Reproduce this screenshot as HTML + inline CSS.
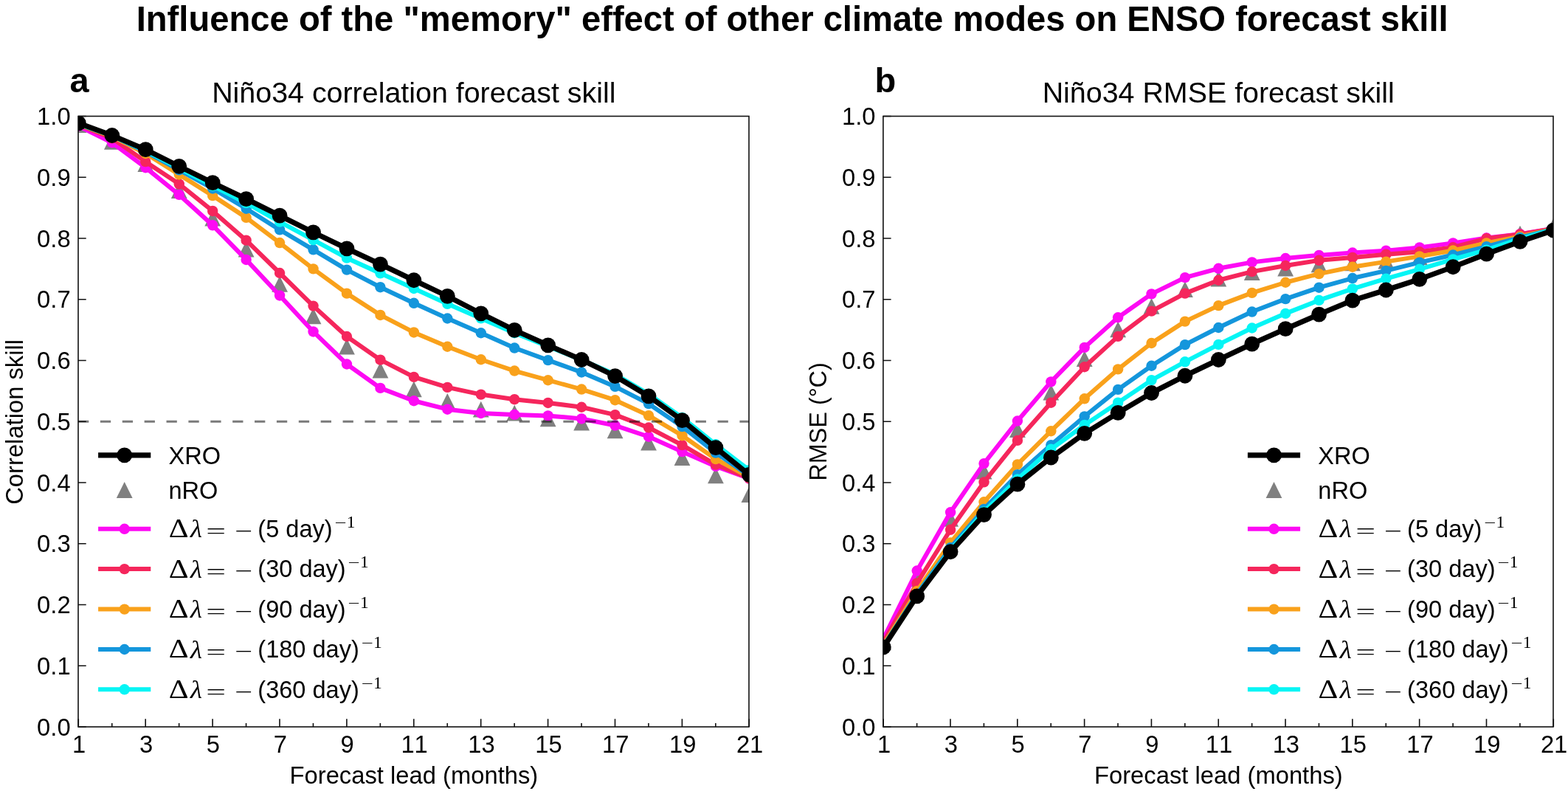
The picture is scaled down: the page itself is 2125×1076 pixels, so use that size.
<!DOCTYPE html>
<html lang="en"><head><meta charset="utf-8">
<title>Influence of the "memory" effect of other climate modes on ENSO forecast skill</title>
<style>
html,body{margin:0;padding:0;background:#fff;}
body{width:2125px;height:1076px;overflow:hidden;}
svg{display:block;}
text{font-family:"Liberation Sans", Arial, Helvetica, sans-serif;fill:#000;font-kerning:none;}
.tk{font-size:32.75px;}
.lg{font-size:32.55px;}
.m{font-family:"Liberation Serif", "DejaVu Serif", serif;}
</style></head><body>
<svg width="2125" height="1076" viewBox="0 0 2125 1076" role="img" aria-label="Two-panel line chart of ENSO forecast skill">
<rect x="0" y="0" width="2125" height="1076" fill="#ffffff"/>
<text x="1073.7" y="42" text-anchor="middle" font-size="47.2" font-weight="bold">Influence of the &quot;memory&quot; effect of other climate modes on ENSO forecast skill</text>
<g id="axes-a">
<clipPath id="clip-a"><rect x="106" y="157.5" width="909" height="827.5"/></clipPath>
<g clip-path="url(#clip-a)">
<path fill="#808080" d="M106.4,158.19L95.5,179.99L117.3,179.99ZM151.85,180.94L140.95,202.74L162.75,202.74ZM197.3,211.31L186.4,233.11L208.2,233.11ZM242.75,247.22L231.85,269.02L253.65,269.02ZM288.2,284.71L277.3,306.51L299.1,306.51ZM333.65,326.58L322.75,348.38L344.55,348.38ZM379.1,373.91L368.2,395.71L390,395.71ZM424.55,417.36L413.65,439.16L435.45,439.16ZM470,458.73L459.1,480.53L480.9,480.53ZM515.45,490.67L504.55,512.47L526.35,512.47ZM560.9,516.49L550,538.29L571.8,538.29ZM606.35,533.04L595.45,554.84L617.25,554.84ZM651.8,543.72L640.9,565.52L662.7,565.52ZM697.25,548.76L686.35,570.56L708.15,570.56ZM742.7,556.38L731.8,578.18L753.6,578.18ZM788.15,561.76L777.25,583.56L799.05,583.56ZM833.6,572.43L822.7,594.23L844.5,594.23ZM879.05,588.65L868.15,610.45L889.95,610.45ZM924.5,609.26L913.6,631.06L935.4,631.06ZM969.95,633.5L959.05,655.3L980.85,655.3ZM1015.4,659.32L1004.5,681.12L1026.3,681.12Z"/>
<polyline fill="none" stroke="#fd0af4" stroke-width="6" stroke-linejoin="round" stroke-linecap="butt" points="106.4,170.74 151.85,193.25 197.3,227.18 242.75,263.92 288.2,305.29 333.65,351.96 379.1,400.45 424.55,449.44 470,493.47 515.45,525.9 560.9,543.28 606.35,554.7 651.8,560 697.25,561.9 742.7,563.39 788.15,567.44 833.6,576.55 879.05,591.77 924.5,612.13 969.95,631.91 1015.4,648.54"/>
<g fill="#fd0af4"><circle cx="106.4" cy="170.74" r="7.2"/><circle cx="151.85" cy="193.25" r="7.2"/><circle cx="197.3" cy="227.18" r="7.2"/><circle cx="242.75" cy="263.92" r="7.2"/><circle cx="288.2" cy="305.29" r="7.2"/><circle cx="333.65" cy="351.96" r="7.2"/><circle cx="379.1" cy="400.45" r="7.2"/><circle cx="424.55" cy="449.44" r="7.2"/><circle cx="470" cy="493.47" r="7.2"/><circle cx="515.45" cy="525.9" r="7.2"/><circle cx="560.9" cy="543.28" r="7.2"/><circle cx="606.35" cy="554.7" r="7.2"/><circle cx="651.8" cy="560" r="7.2"/><circle cx="697.25" cy="561.9" r="7.2"/><circle cx="742.7" cy="563.39" r="7.2"/><circle cx="788.15" cy="567.44" r="7.2"/><circle cx="833.6" cy="576.55" r="7.2"/><circle cx="879.05" cy="591.77" r="7.2"/><circle cx="924.5" cy="612.13" r="7.2"/><circle cx="969.95" cy="631.91" r="7.2"/><circle cx="1015.4" cy="648.54" r="7.2"/></g>
<polyline fill="none" stroke="#f5265c" stroke-width="6" stroke-linejoin="round" stroke-linecap="butt" points="106.4,169.09 151.85,187.29 197.3,219.15 242.75,249.35 288.2,285.93 333.65,325.65 379.1,370 424.55,414.6 470,455.98 515.45,487.67 560.9,510.84 606.35,524.91 651.8,534.59 697.25,541.21 742.7,545.93 788.15,551.72 833.6,562.15 879.05,579.53 924.5,603.11 969.95,629.59 1015.4,648.04"/>
<g fill="#f5265c"><circle cx="106.4" cy="169.09" r="7.2"/><circle cx="151.85" cy="187.29" r="7.2"/><circle cx="197.3" cy="219.15" r="7.2"/><circle cx="242.75" cy="249.35" r="7.2"/><circle cx="288.2" cy="285.93" r="7.2"/><circle cx="333.65" cy="325.65" r="7.2"/><circle cx="379.1" cy="370" r="7.2"/><circle cx="424.55" cy="414.6" r="7.2"/><circle cx="470" cy="455.98" r="7.2"/><circle cx="515.45" cy="487.67" r="7.2"/><circle cx="560.9" cy="510.84" r="7.2"/><circle cx="606.35" cy="524.91" r="7.2"/><circle cx="651.8" cy="534.59" r="7.2"/><circle cx="697.25" cy="541.21" r="7.2"/><circle cx="742.7" cy="545.93" r="7.2"/><circle cx="788.15" cy="551.72" r="7.2"/><circle cx="833.6" cy="562.15" r="7.2"/><circle cx="879.05" cy="579.53" r="7.2"/><circle cx="924.5" cy="603.11" r="7.2"/><circle cx="969.95" cy="629.59" r="7.2"/><circle cx="1015.4" cy="648.04" r="7.2"/></g>
<polyline fill="none" stroke="#f9a11b" stroke-width="6" stroke-linejoin="round" stroke-linecap="butt" points="106.4,168.42 151.85,184.81 197.3,207.98 242.75,236.53 288.2,265.16 333.65,294.87 379.1,329.04 424.55,364.38 470,397.64 515.45,426.93 560.9,450.43 606.35,469.72 651.8,487.26 697.25,502.57 742.7,515.23 788.15,527.56 833.6,542.2 879.05,563.14 924.5,590.28 969.95,622.14 1015.4,646.55"/>
<g fill="#f9a11b"><circle cx="106.4" cy="168.42" r="7.2"/><circle cx="151.85" cy="184.81" r="7.2"/><circle cx="197.3" cy="207.98" r="7.2"/><circle cx="242.75" cy="236.53" r="7.2"/><circle cx="288.2" cy="265.16" r="7.2"/><circle cx="333.65" cy="294.87" r="7.2"/><circle cx="379.1" cy="329.04" r="7.2"/><circle cx="424.55" cy="364.38" r="7.2"/><circle cx="470" cy="397.64" r="7.2"/><circle cx="515.45" cy="426.93" r="7.2"/><circle cx="560.9" cy="450.43" r="7.2"/><circle cx="606.35" cy="469.72" r="7.2"/><circle cx="651.8" cy="487.26" r="7.2"/><circle cx="697.25" cy="502.57" r="7.2"/><circle cx="742.7" cy="515.23" r="7.2"/><circle cx="788.15" cy="527.56" r="7.2"/><circle cx="833.6" cy="542.2" r="7.2"/><circle cx="879.05" cy="563.14" r="7.2"/><circle cx="924.5" cy="590.28" r="7.2"/><circle cx="969.95" cy="622.14" r="7.2"/><circle cx="1015.4" cy="646.55" r="7.2"/></g>
<polyline fill="none" stroke="#1496dc" stroke-width="6" stroke-linejoin="round" stroke-linecap="butt" points="106.4,168.09 151.85,183.98 197.3,205.5 242.75,230.32 288.2,255.48 333.65,282.7 379.1,311.42 424.55,338.31 470,365.62 515.45,389.2 560.9,410.8 606.35,431.49 651.8,451.26 697.25,471.54 742.7,488.09 788.15,504.47 833.6,523.92 879.05,547.17 924.5,578.12 969.95,613.62 1015.4,644.9"/>
<g fill="#1496dc"><circle cx="106.4" cy="168.09" r="7.2"/><circle cx="151.85" cy="183.98" r="7.2"/><circle cx="197.3" cy="205.5" r="7.2"/><circle cx="242.75" cy="230.32" r="7.2"/><circle cx="288.2" cy="255.48" r="7.2"/><circle cx="333.65" cy="282.7" r="7.2"/><circle cx="379.1" cy="311.42" r="7.2"/><circle cx="424.55" cy="338.31" r="7.2"/><circle cx="470" cy="365.62" r="7.2"/><circle cx="515.45" cy="389.2" r="7.2"/><circle cx="560.9" cy="410.8" r="7.2"/><circle cx="606.35" cy="431.49" r="7.2"/><circle cx="651.8" cy="451.26" r="7.2"/><circle cx="697.25" cy="471.54" r="7.2"/><circle cx="742.7" cy="488.09" r="7.2"/><circle cx="788.15" cy="504.47" r="7.2"/><circle cx="833.6" cy="523.92" r="7.2"/><circle cx="879.05" cy="547.17" r="7.2"/><circle cx="924.5" cy="578.12" r="7.2"/><circle cx="969.95" cy="613.62" r="7.2"/><circle cx="1015.4" cy="644.9" r="7.2"/></g>
<polyline fill="none" stroke="#06f5f5" stroke-width="6" stroke-linejoin="round" stroke-linecap="butt" points="106.4,167.93 151.85,183.65 197.3,204.25 242.75,227.84 288.2,251.84 333.65,275.17 379.1,300.66 424.55,325.07 470,349.65 515.45,370.33 560.9,391.02 606.35,411.79 651.8,431.4 697.25,451.26 742.7,469.47 788.15,487.67 833.6,507.37 879.05,534.01 924.5,565.95 969.95,602.28 1015.4,637.2"/>
<g fill="#06f5f5"><circle cx="106.4" cy="167.93" r="7.2"/><circle cx="151.85" cy="183.65" r="7.2"/><circle cx="197.3" cy="204.25" r="7.2"/><circle cx="242.75" cy="227.84" r="7.2"/><circle cx="288.2" cy="251.84" r="7.2"/><circle cx="333.65" cy="275.17" r="7.2"/><circle cx="379.1" cy="300.66" r="7.2"/><circle cx="424.55" cy="325.07" r="7.2"/><circle cx="470" cy="349.65" r="7.2"/><circle cx="515.45" cy="370.33" r="7.2"/><circle cx="560.9" cy="391.02" r="7.2"/><circle cx="606.35" cy="411.79" r="7.2"/><circle cx="651.8" cy="431.4" r="7.2"/><circle cx="697.25" cy="451.26" r="7.2"/><circle cx="742.7" cy="469.47" r="7.2"/><circle cx="788.15" cy="487.67" r="7.2"/><circle cx="833.6" cy="507.37" r="7.2"/><circle cx="879.05" cy="534.01" r="7.2"/><circle cx="924.5" cy="565.95" r="7.2"/><circle cx="969.95" cy="602.28" r="7.2"/><circle cx="1015.4" cy="637.2" r="7.2"/></g>
<polyline fill="none" stroke="#000000" stroke-width="7.1" stroke-linejoin="round" stroke-linecap="butt" points="106.4,166.93 151.85,183.48 197.3,202.68 242.75,225.36 288.2,247.7 333.65,269.54 379.1,292.22 424.55,314.81 470,336.82 515.45,358.09 560.9,379.77 606.35,401.36 651.8,424.87 697.25,447.37 742.7,467.81 788.15,487.51 833.6,509.6 879.05,536.83 924.5,569.6 969.95,606.67 1015.4,643.41"/>
<g fill="#000000"><circle cx="106.4" cy="166.93" r="10.4"/><circle cx="151.85" cy="183.48" r="10.4"/><circle cx="197.3" cy="202.68" r="10.4"/><circle cx="242.75" cy="225.36" r="10.4"/><circle cx="288.2" cy="247.7" r="10.4"/><circle cx="333.65" cy="269.54" r="10.4"/><circle cx="379.1" cy="292.22" r="10.4"/><circle cx="424.55" cy="314.81" r="10.4"/><circle cx="470" cy="336.82" r="10.4"/><circle cx="515.45" cy="358.09" r="10.4"/><circle cx="560.9" cy="379.77" r="10.4"/><circle cx="606.35" cy="401.36" r="10.4"/><circle cx="651.8" cy="424.87" r="10.4"/><circle cx="697.25" cy="447.37" r="10.4"/><circle cx="742.7" cy="467.81" r="10.4"/><circle cx="788.15" cy="487.51" r="10.4"/><circle cx="833.6" cy="509.6" r="10.4"/><circle cx="879.05" cy="536.83" r="10.4"/><circle cx="924.5" cy="569.6" r="10.4"/><circle cx="969.95" cy="606.67" r="10.4"/><circle cx="1015.4" cy="643.41" r="10.4"/></g>
<line x1="106" y1="571.25" x2="1015" y2="571.25" stroke="#000" stroke-opacity="0.52" stroke-width="3.1" stroke-dasharray="14.3 15.58"/>
</g>
<path d="M106.3,985v-10.7M151.75,985v-5M197.2,985v-10.7M242.65,985v-5M288.1,985v-10.7M333.55,985v-5M379,985v-10.7M424.45,985v-5M469.9,985v-10.7M515.35,985v-5M560.8,985v-10.7M606.25,985v-5M651.7,985v-10.7M697.15,985v-5M742.6,985v-10.7M788.05,985v-5M833.5,985v-10.7M878.95,985v-5M924.4,985v-10.7M969.85,985v-5M1015.3,985v-10.7M106,985h10.7M106,902.25h10.7M106,819.5h10.7M106,736.75h10.7M106,654h10.7M106,571.25h10.7M106,488.5h10.7M106,405.75h10.7M106,323h10.7M106,240.25h10.7M106,157.5h10.7" stroke="#111" stroke-width="1.6" fill="none"/>
<rect x="106" y="157.5" width="909" height="827.5" fill="none" stroke="#111" stroke-width="1.6"/>
<g class="tk" text-anchor="middle">
<text x="107.1" y="1019.6">1</text>
<text x="198" y="1019.6">3</text>
<text x="288.9" y="1019.6">5</text>
<text x="379.8" y="1019.6">7</text>
<text x="470.7" y="1019.6">9</text>
<text x="561.6" y="1019.6">11</text>
<text x="652.5" y="1019.6">13</text>
<text x="743.4" y="1019.6">15</text>
<text x="834.3" y="1019.6">17</text>
<text x="925.2" y="1019.6">19</text>
<text x="1016.1" y="1019.6">21</text>
</g>
<g class="tk" text-anchor="end">
<text x="95.6" y="996.7">0.0</text>
<text x="95.6" y="913.95">0.1</text>
<text x="95.6" y="831.2">0.2</text>
<text x="95.6" y="748.45">0.3</text>
<text x="95.6" y="665.7">0.4</text>
<text x="95.6" y="582.95">0.5</text>
<text x="95.6" y="500.2">0.6</text>
<text x="95.6" y="417.45">0.7</text>
<text x="95.6" y="334.7">0.8</text>
<text x="95.6" y="251.95">0.9</text>
<text x="95.6" y="169.2">1.0</text>
</g>
<text class="tk" x="560.9" y="1062" text-anchor="middle">Forecast lead (months)</text>
<text class="tk" transform="translate(30.8,571.85) rotate(-90)" text-anchor="middle">Correlation skill</text>
<text x="560.8" y="139.3" font-size="39.4" text-anchor="middle">Niño34 correlation forecast skill</text>
<text x="94.5" y="124.6" font-size="47" font-weight="bold">a</text>
<line x1="133.1" y1="616.9" x2="204.3" y2="616.9" stroke="#000000" stroke-width="7.1"/>
<circle cx="168.7" cy="616.9" r="10.4" fill="#000000"/>
<text class="lg" x="228.5" y="629.3">XRO</text>
<path d="M168.7,653.1L157.8,674.9L179.6,674.9Z" fill="#808080"/>
<text class="lg" x="228.5" y="675.9">nRO</text>
<line x1="133.1" y1="716.8" x2="204.3" y2="716.8" stroke="#fd0af4" stroke-width="6"/>
<circle cx="168.7" cy="716.8" r="7.2" fill="#fd0af4"/>
<text class="m" transform="translate(228.65,728.1) scale(1.176,1)" font-size="35.5">Δ</text>
<text class="m" transform="translate(258,728.3) scale(1.100,1)" font-size="33.5" font-style="italic">λ</text>
<text class="m" transform="translate(279.35,729.25) scale(1.700,1)" font-size="28" fill="#3a3a3a">=</text>
<text class="m" transform="translate(318.55,728.6) scale(1.520,1)" font-size="28" fill="#3a3a3a">−</text>
<text class="lg" x="349.3" y="727.7">(5 day)</text>
<text class="m" transform="translate(453.5,714.8) scale(1.500,1)" font-size="19" fill="#3a3a3a">−</text>
<text class="m" transform="translate(469.8,714.9) scale(1.000,1)" font-size="23.5">1</text>
<line x1="133.1" y1="771.1" x2="204.3" y2="771.1" stroke="#f5265c" stroke-width="6"/>
<circle cx="168.7" cy="771.1" r="7.2" fill="#f5265c"/>
<text class="m" transform="translate(228.65,782.5) scale(1.176,1)" font-size="35.5">Δ</text>
<text class="m" transform="translate(258,782.7) scale(1.100,1)" font-size="33.5" font-style="italic">λ</text>
<text class="m" transform="translate(279.35,783.65) scale(1.700,1)" font-size="28" fill="#3a3a3a">=</text>
<text class="m" transform="translate(318.55,783) scale(1.520,1)" font-size="28" fill="#3a3a3a">−</text>
<text class="lg" x="349.3" y="782.1">(30 day)</text>
<text class="m" transform="translate(471.6,769.2) scale(1.500,1)" font-size="19" fill="#3a3a3a">−</text>
<text class="m" transform="translate(487.9,769.3) scale(1.000,1)" font-size="23.5">1</text>
<line x1="133.1" y1="825.6" x2="204.3" y2="825.6" stroke="#f9a11b" stroke-width="6"/>
<circle cx="168.7" cy="825.6" r="7.2" fill="#f9a11b"/>
<text class="m" transform="translate(228.65,837) scale(1.176,1)" font-size="35.5">Δ</text>
<text class="m" transform="translate(258,837.2) scale(1.100,1)" font-size="33.5" font-style="italic">λ</text>
<text class="m" transform="translate(279.35,838.15) scale(1.700,1)" font-size="28" fill="#3a3a3a">=</text>
<text class="m" transform="translate(318.55,837.5) scale(1.520,1)" font-size="28" fill="#3a3a3a">−</text>
<text class="lg" x="349.3" y="836.6">(90 day)</text>
<text class="m" transform="translate(471.6,823.7) scale(1.500,1)" font-size="19" fill="#3a3a3a">−</text>
<text class="m" transform="translate(487.9,823.8) scale(1.000,1)" font-size="23.5">1</text>
<line x1="133.1" y1="880" x2="204.3" y2="880" stroke="#1496dc" stroke-width="6"/>
<circle cx="168.7" cy="880" r="7.2" fill="#1496dc"/>
<text class="m" transform="translate(228.65,891.4) scale(1.176,1)" font-size="35.5">Δ</text>
<text class="m" transform="translate(258,891.6) scale(1.100,1)" font-size="33.5" font-style="italic">λ</text>
<text class="m" transform="translate(279.35,892.55) scale(1.700,1)" font-size="28" fill="#3a3a3a">=</text>
<text class="m" transform="translate(318.55,891.9) scale(1.520,1)" font-size="28" fill="#3a3a3a">−</text>
<text class="lg" x="349.3" y="891">(180 day)</text>
<text class="m" transform="translate(489.7,878.1) scale(1.500,1)" font-size="19" fill="#3a3a3a">−</text>
<text class="m" transform="translate(506,878.2) scale(1.000,1)" font-size="23.5">1</text>
<line x1="133.1" y1="934.3" x2="204.3" y2="934.3" stroke="#06f5f5" stroke-width="6"/>
<circle cx="168.7" cy="934.3" r="7.2" fill="#06f5f5"/>
<text class="m" transform="translate(228.65,946) scale(1.176,1)" font-size="35.5">Δ</text>
<text class="m" transform="translate(258,946.2) scale(1.100,1)" font-size="33.5" font-style="italic">λ</text>
<text class="m" transform="translate(279.35,947.15) scale(1.700,1)" font-size="28" fill="#3a3a3a">=</text>
<text class="m" transform="translate(318.55,946.5) scale(1.520,1)" font-size="28" fill="#3a3a3a">−</text>
<text class="lg" x="349.3" y="945.6">(360 day)</text>
<text class="m" transform="translate(489.7,932.7) scale(1.500,1)" font-size="19" fill="#3a3a3a">−</text>
<text class="m" transform="translate(506,932.8) scale(1.000,1)" font-size="23.5">1</text>
</g>
<g id="axes-b">
<clipPath id="clip-b"><rect x="1196.9" y="157.5" width="908.1" height="827.5"/></clipPath>
<g clip-path="url(#clip-b)">
<path fill="#808080" d="M1197.3,858.75L1186.4,880.55L1208.2,880.55ZM1242.71,773.51L1231.81,795.31L1253.61,795.31ZM1288.11,691.84L1277.21,713.64L1299.01,713.64ZM1333.52,627.63L1322.62,649.43L1344.42,649.43ZM1378.92,571.11L1368.02,592.91L1389.82,592.91ZM1424.33,520.63L1413.43,542.43L1435.23,542.43ZM1469.73,475.2L1458.83,497L1480.63,497ZM1515.14,435.48L1504.24,457.28L1526.04,457.28ZM1560.54,404.04L1549.64,425.84L1571.44,425.84ZM1605.95,381.2L1595.05,403L1616.85,403ZM1651.35,366.63L1640.45,388.43L1662.25,388.43ZM1696.76,358.11L1685.86,379.91L1707.66,379.91ZM1742.16,352.73L1731.26,374.53L1753.06,374.53ZM1787.57,347.35L1776.66,369.15L1798.47,369.15ZM1832.97,345.45L1822.07,367.25L1843.87,367.25ZM1878.38,342.63L1867.47,364.43L1889.28,364.43ZM1923.78,337.42L1912.88,359.22L1934.68,359.22ZM1969.19,322.53L1958.29,344.33L1980.09,344.33ZM2014.59,314.91L2003.69,336.71L2025.49,336.71ZM2060,305.65L2049.1,327.45L2070.9,327.45ZM2105.4,295.3L2094.5,317.1L2116.3,317.1Z"/>
<polyline fill="none" stroke="#fd0af4" stroke-width="6" stroke-linejoin="round" stroke-linecap="butt" points="1197.3,865.51 1242.71,773.49 1288.11,694.22 1333.52,628.1 1378.92,570.51 1424.33,517.38 1469.73,470.87 1515.14,430.24 1560.54,398.39 1605.95,376.13 1651.35,363.8 1696.76,355.36 1742.16,349.98 1787.57,345.92 1832.97,342.53 1878.38,339.63 1923.78,335.41 1969.19,329.37 2014.59,322.5 2060,317.21 2105.4,309.59"/>
<g fill="#fd0af4"><circle cx="1197.3" cy="865.51" r="7.2"/><circle cx="1242.71" cy="773.49" r="7.2"/><circle cx="1288.11" cy="694.22" r="7.2"/><circle cx="1333.52" cy="628.1" r="7.2"/><circle cx="1378.92" cy="570.51" r="7.2"/><circle cx="1424.33" cy="517.38" r="7.2"/><circle cx="1469.73" cy="470.87" r="7.2"/><circle cx="1515.14" cy="430.24" r="7.2"/><circle cx="1560.54" cy="398.39" r="7.2"/><circle cx="1605.95" cy="376.13" r="7.2"/><circle cx="1651.35" cy="363.8" r="7.2"/><circle cx="1696.76" cy="355.36" r="7.2"/><circle cx="1742.16" cy="349.98" r="7.2"/><circle cx="1787.57" cy="345.92" r="7.2"/><circle cx="1832.97" cy="342.53" r="7.2"/><circle cx="1878.38" cy="339.63" r="7.2"/><circle cx="1923.78" cy="335.41" r="7.2"/><circle cx="1969.19" cy="329.37" r="7.2"/><circle cx="2014.59" cy="322.5" r="7.2"/><circle cx="2060" cy="317.21" r="7.2"/><circle cx="2105.4" cy="309.59" r="7.2"/></g>
<polyline fill="none" stroke="#f5265c" stroke-width="6" stroke-linejoin="round" stroke-linecap="butt" points="1197.3,869.65 1242.71,790.37 1288.11,717.8 1333.52,653.42 1378.92,596.9 1424.33,545.68 1469.73,497.27 1515.14,455.9 1560.54,421.64 1605.95,397.64 1651.35,379.77 1696.76,368.1 1742.16,359.99 1787.57,352.79 1832.97,348.9 1878.38,344.68 1923.78,341.29 1969.19,335.25 2014.59,323.17 2060,317.54 2105.4,309.84"/>
<g fill="#f5265c"><circle cx="1197.3" cy="869.65" r="7.2"/><circle cx="1242.71" cy="790.37" r="7.2"/><circle cx="1288.11" cy="717.8" r="7.2"/><circle cx="1333.52" cy="653.42" r="7.2"/><circle cx="1378.92" cy="596.9" r="7.2"/><circle cx="1424.33" cy="545.68" r="7.2"/><circle cx="1469.73" cy="497.27" r="7.2"/><circle cx="1515.14" cy="455.9" r="7.2"/><circle cx="1560.54" cy="421.64" r="7.2"/><circle cx="1605.95" cy="397.64" r="7.2"/><circle cx="1651.35" cy="379.77" r="7.2"/><circle cx="1696.76" cy="368.1" r="7.2"/><circle cx="1742.16" cy="359.99" r="7.2"/><circle cx="1787.57" cy="352.79" r="7.2"/><circle cx="1832.97" cy="348.9" r="7.2"/><circle cx="1878.38" cy="344.68" r="7.2"/><circle cx="1923.78" cy="341.29" r="7.2"/><circle cx="1969.19" cy="335.25" r="7.2"/><circle cx="2014.59" cy="323.17" r="7.2"/><circle cx="2060" cy="317.54" r="7.2"/><circle cx="2105.4" cy="309.84" r="7.2"/></g>
<polyline fill="none" stroke="#f9a11b" stroke-width="6" stroke-linejoin="round" stroke-linecap="butt" points="1197.3,873.78 1242.71,800.96 1288.11,735.34 1333.52,680.31 1378.92,629.42 1424.33,584.24 1469.73,540.3 1515.14,500.42 1560.54,465 1605.95,435.62 1651.35,414.11 1696.76,396.9 1742.16,382.75 1787.57,371.08 1832.97,361.73 1878.38,354.61 1923.78,347.41 1969.19,339.55 2014.59,329.37 2060,320.52 2105.4,310.26"/>
<g fill="#f9a11b"><circle cx="1197.3" cy="873.78" r="7.2"/><circle cx="1242.71" cy="800.96" r="7.2"/><circle cx="1288.11" cy="735.34" r="7.2"/><circle cx="1333.52" cy="680.31" r="7.2"/><circle cx="1378.92" cy="629.42" r="7.2"/><circle cx="1424.33" cy="584.24" r="7.2"/><circle cx="1469.73" cy="540.3" r="7.2"/><circle cx="1515.14" cy="500.42" r="7.2"/><circle cx="1560.54" cy="465" r="7.2"/><circle cx="1605.95" cy="435.62" r="7.2"/><circle cx="1651.35" cy="414.11" r="7.2"/><circle cx="1696.76" cy="396.9" r="7.2"/><circle cx="1742.16" cy="382.75" r="7.2"/><circle cx="1787.57" cy="371.08" r="7.2"/><circle cx="1832.97" cy="361.73" r="7.2"/><circle cx="1878.38" cy="354.61" r="7.2"/><circle cx="1923.78" cy="347.41" r="7.2"/><circle cx="1969.19" cy="339.55" r="7.2"/><circle cx="2014.59" cy="329.37" r="7.2"/><circle cx="2060" cy="320.52" r="7.2"/><circle cx="2105.4" cy="310.26" r="7.2"/></g>
<polyline fill="none" stroke="#1496dc" stroke-width="6" stroke-linejoin="round" stroke-linecap="butt" points="1197.3,875.44 1242.71,805.1 1288.11,742.21 1333.52,689.91 1378.92,643.16 1424.33,603.11 1469.73,564.46 1515.14,527.89 1560.54,495.78 1605.95,467.15 1651.35,443.98 1696.76,422.55 1742.16,405.17 1787.57,389.7 1832.97,377.04 1878.38,366.86 1923.78,355.69 1969.19,345.51 2014.59,334.09 2060,322.01 2105.4,310.67"/>
<g fill="#1496dc"><circle cx="1197.3" cy="875.44" r="7.2"/><circle cx="1242.71" cy="805.1" r="7.2"/><circle cx="1288.11" cy="742.21" r="7.2"/><circle cx="1333.52" cy="689.91" r="7.2"/><circle cx="1378.92" cy="643.16" r="7.2"/><circle cx="1424.33" cy="603.11" r="7.2"/><circle cx="1469.73" cy="564.46" r="7.2"/><circle cx="1515.14" cy="527.89" r="7.2"/><circle cx="1560.54" cy="495.78" r="7.2"/><circle cx="1605.95" cy="467.15" r="7.2"/><circle cx="1651.35" cy="443.98" r="7.2"/><circle cx="1696.76" cy="422.55" r="7.2"/><circle cx="1742.16" cy="405.17" r="7.2"/><circle cx="1787.57" cy="389.7" r="7.2"/><circle cx="1832.97" cy="377.04" r="7.2"/><circle cx="1878.38" cy="366.86" r="7.2"/><circle cx="1923.78" cy="355.69" r="7.2"/><circle cx="1969.19" cy="345.51" r="7.2"/><circle cx="2014.59" cy="334.09" r="7.2"/><circle cx="2060" cy="322.01" r="7.2"/><circle cx="2105.4" cy="310.67" r="7.2"/></g>
<polyline fill="none" stroke="#06f5f5" stroke-width="6" stroke-linejoin="round" stroke-linecap="butt" points="1197.3,876.27 1242.71,806.76 1288.11,745.52 1333.52,693.39 1378.92,649.53 1424.33,608.74 1469.73,575.88 1515.14,545.68 1560.54,515.23 1605.95,490.32 1651.35,466.9 1696.76,444.48 1742.16,424.87 1787.57,406.91 1832.97,391.35 1878.38,377.7 1923.78,364.79 1969.19,351.38 2014.59,338.72 2060,323.66 2105.4,311.08"/>
<g fill="#06f5f5"><circle cx="1197.3" cy="876.27" r="7.2"/><circle cx="1242.71" cy="806.76" r="7.2"/><circle cx="1288.11" cy="745.52" r="7.2"/><circle cx="1333.52" cy="693.39" r="7.2"/><circle cx="1378.92" cy="649.53" r="7.2"/><circle cx="1424.33" cy="608.74" r="7.2"/><circle cx="1469.73" cy="575.88" r="7.2"/><circle cx="1515.14" cy="545.68" r="7.2"/><circle cx="1560.54" cy="515.23" r="7.2"/><circle cx="1605.95" cy="490.32" r="7.2"/><circle cx="1651.35" cy="466.9" r="7.2"/><circle cx="1696.76" cy="444.48" r="7.2"/><circle cx="1742.16" cy="424.87" r="7.2"/><circle cx="1787.57" cy="406.91" r="7.2"/><circle cx="1832.97" cy="391.35" r="7.2"/><circle cx="1878.38" cy="377.7" r="7.2"/><circle cx="1923.78" cy="364.79" r="7.2"/><circle cx="1969.19" cy="351.38" r="7.2"/><circle cx="2014.59" cy="338.72" r="7.2"/><circle cx="2060" cy="323.66" r="7.2"/><circle cx="2105.4" cy="311.08" r="7.2"/></g>
<polyline fill="none" stroke="#000000" stroke-width="7.1" stroke-linejoin="round" stroke-linecap="butt" points="1197.3,877.01 1242.71,807.91 1288.11,747.76 1333.52,697.53 1378.92,656.15 1424.33,619.99 1469.73,587.47 1515.14,559.42 1560.54,532.52 1605.95,509.27 1651.35,487.51 1696.76,466.07 1742.16,445.64 1787.57,426.11 1832.97,407.07 1878.38,393.01 1923.78,378.28 1969.19,361.73 2014.59,344.1 2060,327.47 2105.4,312.08"/>
<g fill="#000000"><circle cx="1197.3" cy="877.01" r="10.4"/><circle cx="1242.71" cy="807.91" r="10.4"/><circle cx="1288.11" cy="747.76" r="10.4"/><circle cx="1333.52" cy="697.53" r="10.4"/><circle cx="1378.92" cy="656.15" r="10.4"/><circle cx="1424.33" cy="619.99" r="10.4"/><circle cx="1469.73" cy="587.47" r="10.4"/><circle cx="1515.14" cy="559.42" r="10.4"/><circle cx="1560.54" cy="532.52" r="10.4"/><circle cx="1605.95" cy="509.27" r="10.4"/><circle cx="1651.35" cy="487.51" r="10.4"/><circle cx="1696.76" cy="466.07" r="10.4"/><circle cx="1742.16" cy="445.64" r="10.4"/><circle cx="1787.57" cy="426.11" r="10.4"/><circle cx="1832.97" cy="407.07" r="10.4"/><circle cx="1878.38" cy="393.01" r="10.4"/><circle cx="1923.78" cy="378.28" r="10.4"/><circle cx="1969.19" cy="361.73" r="10.4"/><circle cx="2014.59" cy="344.1" r="10.4"/><circle cx="2060" cy="327.47" r="10.4"/><circle cx="2105.4" cy="312.08" r="10.4"/></g>
</g>
<path d="M1197.2,985v-10.7M1242.61,985v-5M1288.01,985v-10.7M1333.41,985v-5M1378.82,985v-10.7M1424.23,985v-5M1469.63,985v-10.7M1515.04,985v-5M1560.44,985v-10.7M1605.85,985v-5M1651.25,985v-10.7M1696.65,985v-5M1742.06,985v-10.7M1787.46,985v-5M1832.87,985v-10.7M1878.27,985v-5M1923.68,985v-10.7M1969.09,985v-5M2014.49,985v-10.7M2059.9,985v-5M2105.3,985v-10.7M1196.9,985h10.7M1196.9,902.25h10.7M1196.9,819.5h10.7M1196.9,736.75h10.7M1196.9,654h10.7M1196.9,571.25h10.7M1196.9,488.5h10.7M1196.9,405.75h10.7M1196.9,323h10.7M1196.9,240.25h10.7M1196.9,157.5h10.7" stroke="#111" stroke-width="1.6" fill="none"/>
<rect x="1196.9" y="157.5" width="908.1" height="827.5" fill="none" stroke="#111" stroke-width="1.6"/>
<g class="tk" text-anchor="middle">
<text x="1198" y="1019.6">1</text>
<text x="1288.81" y="1019.6">3</text>
<text x="1379.62" y="1019.6">5</text>
<text x="1470.43" y="1019.6">7</text>
<text x="1561.24" y="1019.6">9</text>
<text x="1652.05" y="1019.6">11</text>
<text x="1742.86" y="1019.6">13</text>
<text x="1833.67" y="1019.6">15</text>
<text x="1924.48" y="1019.6">17</text>
<text x="2015.29" y="1019.6">19</text>
<text x="2106.1" y="1019.6">21</text>
</g>
<g class="tk" text-anchor="end">
<text x="1186.5" y="996.7">0.0</text>
<text x="1186.5" y="913.95">0.1</text>
<text x="1186.5" y="831.2">0.2</text>
<text x="1186.5" y="748.45">0.3</text>
<text x="1186.5" y="665.7">0.4</text>
<text x="1186.5" y="582.95">0.5</text>
<text x="1186.5" y="500.2">0.6</text>
<text x="1186.5" y="417.45">0.7</text>
<text x="1186.5" y="334.7">0.8</text>
<text x="1186.5" y="251.95">0.9</text>
<text x="1186.5" y="169.2">1.0</text>
</g>
<text class="tk" x="1651.35" y="1062" text-anchor="middle">Forecast lead (months)</text>
<text class="tk" style="font-size:32.4px" transform="translate(1120,571.45) rotate(-90)" text-anchor="middle">RMSE (°C)</text>
<text x="1651.25" y="139.3" font-size="39.4" text-anchor="middle">Niño34 RMSE forecast skill</text>
<text x="1185.4" y="124.6" font-size="47" font-weight="bold">b</text>
<line x1="1690.9" y1="616.9" x2="1762.1" y2="616.9" stroke="#000000" stroke-width="7.1"/>
<circle cx="1726.5" cy="616.9" r="10.4" fill="#000000"/>
<text class="lg" x="1786.3" y="629.3">XRO</text>
<path d="M1726.5,653.1L1715.6,674.9L1737.4,674.9Z" fill="#808080"/>
<text class="lg" x="1786.3" y="675.9">nRO</text>
<line x1="1690.9" y1="716.8" x2="1762.1" y2="716.8" stroke="#fd0af4" stroke-width="6"/>
<circle cx="1726.5" cy="716.8" r="7.2" fill="#fd0af4"/>
<text class="m" transform="translate(1786.45,728.1) scale(1.176,1)" font-size="35.5">Δ</text>
<text class="m" transform="translate(1815.8,728.3) scale(1.100,1)" font-size="33.5" font-style="italic">λ</text>
<text class="m" transform="translate(1837.15,729.25) scale(1.700,1)" font-size="28" fill="#3a3a3a">=</text>
<text class="m" transform="translate(1876.35,728.6) scale(1.520,1)" font-size="28" fill="#3a3a3a">−</text>
<text class="lg" x="1907.1" y="727.7">(5 day)</text>
<text class="m" transform="translate(2011.3,714.8) scale(1.500,1)" font-size="19" fill="#3a3a3a">−</text>
<text class="m" transform="translate(2027.6,714.9) scale(1.000,1)" font-size="23.5">1</text>
<line x1="1690.9" y1="771.1" x2="1762.1" y2="771.1" stroke="#f5265c" stroke-width="6"/>
<circle cx="1726.5" cy="771.1" r="7.2" fill="#f5265c"/>
<text class="m" transform="translate(1786.45,782.5) scale(1.176,1)" font-size="35.5">Δ</text>
<text class="m" transform="translate(1815.8,782.7) scale(1.100,1)" font-size="33.5" font-style="italic">λ</text>
<text class="m" transform="translate(1837.15,783.65) scale(1.700,1)" font-size="28" fill="#3a3a3a">=</text>
<text class="m" transform="translate(1876.35,783) scale(1.520,1)" font-size="28" fill="#3a3a3a">−</text>
<text class="lg" x="1907.1" y="782.1">(30 day)</text>
<text class="m" transform="translate(2029.4,769.2) scale(1.500,1)" font-size="19" fill="#3a3a3a">−</text>
<text class="m" transform="translate(2045.7,769.3) scale(1.000,1)" font-size="23.5">1</text>
<line x1="1690.9" y1="825.6" x2="1762.1" y2="825.6" stroke="#f9a11b" stroke-width="6"/>
<circle cx="1726.5" cy="825.6" r="7.2" fill="#f9a11b"/>
<text class="m" transform="translate(1786.45,837) scale(1.176,1)" font-size="35.5">Δ</text>
<text class="m" transform="translate(1815.8,837.2) scale(1.100,1)" font-size="33.5" font-style="italic">λ</text>
<text class="m" transform="translate(1837.15,838.15) scale(1.700,1)" font-size="28" fill="#3a3a3a">=</text>
<text class="m" transform="translate(1876.35,837.5) scale(1.520,1)" font-size="28" fill="#3a3a3a">−</text>
<text class="lg" x="1907.1" y="836.6">(90 day)</text>
<text class="m" transform="translate(2029.4,823.7) scale(1.500,1)" font-size="19" fill="#3a3a3a">−</text>
<text class="m" transform="translate(2045.7,823.8) scale(1.000,1)" font-size="23.5">1</text>
<line x1="1690.9" y1="880" x2="1762.1" y2="880" stroke="#1496dc" stroke-width="6"/>
<circle cx="1726.5" cy="880" r="7.2" fill="#1496dc"/>
<text class="m" transform="translate(1786.45,891.4) scale(1.176,1)" font-size="35.5">Δ</text>
<text class="m" transform="translate(1815.8,891.6) scale(1.100,1)" font-size="33.5" font-style="italic">λ</text>
<text class="m" transform="translate(1837.15,892.55) scale(1.700,1)" font-size="28" fill="#3a3a3a">=</text>
<text class="m" transform="translate(1876.35,891.9) scale(1.520,1)" font-size="28" fill="#3a3a3a">−</text>
<text class="lg" x="1907.1" y="891">(180 day)</text>
<text class="m" transform="translate(2047.5,878.1) scale(1.500,1)" font-size="19" fill="#3a3a3a">−</text>
<text class="m" transform="translate(2063.8,878.2) scale(1.000,1)" font-size="23.5">1</text>
<line x1="1690.9" y1="934.3" x2="1762.1" y2="934.3" stroke="#06f5f5" stroke-width="6"/>
<circle cx="1726.5" cy="934.3" r="7.2" fill="#06f5f5"/>
<text class="m" transform="translate(1786.45,946) scale(1.176,1)" font-size="35.5">Δ</text>
<text class="m" transform="translate(1815.8,946.2) scale(1.100,1)" font-size="33.5" font-style="italic">λ</text>
<text class="m" transform="translate(1837.15,947.15) scale(1.700,1)" font-size="28" fill="#3a3a3a">=</text>
<text class="m" transform="translate(1876.35,946.5) scale(1.520,1)" font-size="28" fill="#3a3a3a">−</text>
<text class="lg" x="1907.1" y="945.6">(360 day)</text>
<text class="m" transform="translate(2047.5,932.7) scale(1.500,1)" font-size="19" fill="#3a3a3a">−</text>
<text class="m" transform="translate(2063.8,932.8) scale(1.000,1)" font-size="23.5">1</text>
</g>
</svg>
</body></html>
